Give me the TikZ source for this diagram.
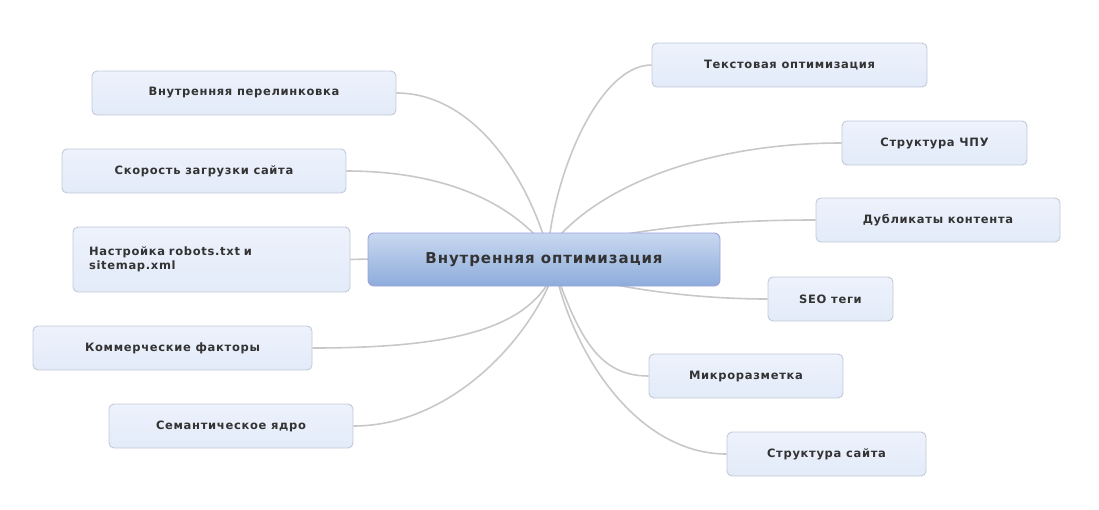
\documentclass[tikz,border=0pt]{standalone}
\usepackage{fontspec}
\setmainfont{DejaVu Sans}
\newfontfamily\bfnt[LetterSpace=6]{DejaVu Sans Bold}
\usetikzlibrary{shadings}
\definecolor{txt}{HTML}{333333}
\definecolor{nfill}{HTML}{EDF2FC}
\definecolor{nfill2}{HTML}{E3EBF9}
\definecolor{nborder}{HTML}{C2C9D6}
\definecolor{ln}{HTML}{C8C8C8}
\definecolor{ctop}{HTML}{C9D8F0}
\definecolor{cbot}{HTML}{8EACDB}
\begin{document}
\begin{tikzpicture}[x=1pt,y=-1pt,
  leaf/.style={draw=nborder,line width=0.9pt,rounded corners=5pt,top color=nfill,bottom color=nfill2,font=\bfnt\fontsize{11.5}{14}\selectfont,text=txt,align=left,inner sep=0pt},
  conn/.style={draw=ln,line width=1.6pt}]
\useasboundingbox (0,0) rectangle (1099,509);
\coordinate (ht) at (548,250);
\coordinate (hb) at (555,270);
% leaves
\node[leaf,minimum width=304pt,minimum height=44pt] (l1) at (244,93) {Внутренняя перелинковка};
\node[leaf,minimum width=284pt,minimum height=44pt] (l2) at (204,171) {Скорость загрузки сайта};
\node[leaf,minimum width=277pt,minimum height=65pt,text width=245pt] (l3) at (211.5,259.5) {Настройка robots.txt и\\sitemap.xml};
\node[leaf,minimum width=279pt,minimum height=44pt] (l4) at (172.5,348) {Коммерческие факторы};
\node[leaf,minimum width=244pt,minimum height=44pt] (l5) at (231,426) {Семантическое ядро};
\node[leaf,minimum width=275pt,minimum height=44pt] (r1) at (789.5,65) {Текстовая оптимизация};
\node[leaf,minimum width=185pt,minimum height=44pt] (r2) at (934.5,143) {Структура ЧПУ};
\node[leaf,minimum width=244pt,minimum height=44pt] (r3) at (938,220) {Дубликаты контента};
\node[leaf,minimum width=125pt,minimum height=44pt] (r4) at (830.5,299) {SEO теги};
\node[leaf,minimum width=194pt,minimum height=44pt] (r5) at (746,376) {Микроразметка};
\node[leaf,minimum width=199pt,minimum height=44pt] (r6) at (826.5,454) {Структура сайта};
% connectors
\begin{scope}[on background layer/.try]
\draw[conn] (l1.east) .. controls (470,93) and (525,170) .. (ht);
\draw[conn] (l2.east) .. controls (440,171) and (510,200) .. (ht);
\draw[conn] (l3.east) -- (370,259);
\draw[conn] (l4.east) .. controls (450,348) and (530,330) .. (hb);
\draw[conn] (l5.east) .. controls (450,426) and (530,340) .. (hb);
\draw[conn] (r1.west) .. controls (600,65) and (555,170) .. (ht);
\draw[conn] (r2.west) .. controls (700,143) and (590,190) .. (ht);
\draw[conn] (r3.west) .. controls (760,220) and (660,222) .. (ht);
\draw[conn] (r4.west) .. controls (700,299) and (620,290) .. (hb);
\draw[conn] (r5.west) .. controls (600,376) and (580,340) .. (hb);
\draw[conn] (r6.west) .. controls (640,454) and (575,360) .. (hb);
\end{scope}
\node[draw=nborder!80!blue,line width=0.9pt,rounded corners=6pt,top color=ctop,bottom color=cbot,minimum width=352pt,minimum height=53pt,font=\bfnt\fontsize{15}{18}\selectfont,text=txt] (c) at (544,259.5) {Внутренняя оптимизация};
\end{tikzpicture}
\end{document}
